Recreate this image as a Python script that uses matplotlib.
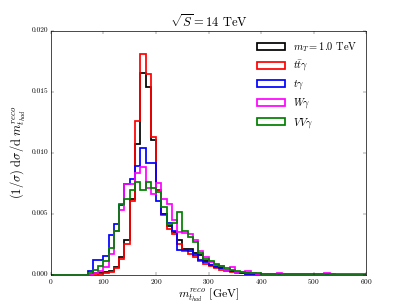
import numpy as np
import matplotlib
matplotlib.use('Agg')
import matplotlib.pyplot as plt
from matplotlib.patches import Patch

plt.style.use('classic')
plt.rcParams['mathtext.fontset'] = 'cm'
plt.rcParams['font.family'] = 'serif'
plt.rcParams['font.serif'] = ['cmr10']
plt.rcParams['axes.formatter.use_mathtext'] = True

# 10 GeV bins from 0 to 600
edges = np.arange(0, 610, 10)

# normalised distributions, read bin by bin from the picture (bins start at 0 GeV)
m_T = [0, 0, 0, 0, 0, 0, 0, 0, 0.0001, 0.0001,
       0.0002, 0.0003, 0.0006, 0.0014, 0.0028, 0.0062, 0.0107, 0.0165, 0.0154, 0.0110,
       0.0069, 0.0050, 0.0040, 0.0035, 0.0028, 0.0021, 0.0021, 0.0018, 0.0016, 0.0011,
       0.0008, 0.0007, 0.0005, 0.0004, 0.0003, 0.0002, 0.00015, 0.0001, 0.00005, 0.00005,
       0.00003, 0.00003, 0.00002, 0, 0, 0, 0, 0, 0, 0,
       0, 0, 0, 0, 0, 0, 0, 0, 0, 0]
ttgamma = [0, 0, 0, 0, 0, 0, 0, 0, 0, 0.00005,
           0.0001, 0.0002, 0.0005, 0.0013, 0.0025, 0.0060, 0.0126, 0.0181, 0.0164, 0.0113,
           0.0069, 0.0049, 0.0037, 0.0033, 0.0025, 0.0019, 0.0017, 0.0014, 0.0011, 0.0009,
           0.0007, 0.0005, 0.0004, 0.0003, 0.0002, 0.0001, 0.0001, 0.00005, 0.00003, 0.00002,
           0, 0, 0, 0, 0, 0, 0, 0, 0, 0,
           0, 0, 0, 0, 0, 0, 0, 0, 0, 0]
tgamma = [0, 0, 0, 0, 0, 0, 0, 0.0003, 0.00115, 0.00115,
          0.0015, 0.0032, 0.0041, 0.0057, 0.0074, 0.0078, 0.0089, 0.0104, 0.0091, 0.0091,
          0.0060, 0.0050, 0.0042, 0.0036, 0.0020, 0.0020, 0.0019, 0.0016, 0.0012, 0.0010,
          0.0008, 0.0006, 0.0005, 0.0004, 0.0003, 0.0002, 0.0001, 0.00005, 0.00003, 0.00002,
          0, 0, 0, 0, 0, 0, 0, 0, 0, 0,
          0, 0, 0, 0, 0, 0, 0, 0, 0, 0]
Wgamma = [0, 0, 0, 0, 0, 0, 0, 0, 0.0001, 0.0003,
          0.0006, 0.0017, 0.0036, 0.0053, 0.0074, 0.0074, 0.0083, 0.0088, 0.0071, 0.0066,
          0.0075, 0.0062, 0.0058, 0.0045, 0.0035, 0.0034, 0.0033, 0.0028, 0.0019, 0.0014,
          0.0010, 0.0008, 0.0007, 0.0004, 0.0006, 0.0002, 0.0002, 0.0003, 0.0001, 0.00005,
          0.00005, 0.00005, 0.00005, 0.0001, 0.00003, 0.00003, 0.00003, 0.00003, 0.00003, 0.00003,
          0.00003, 0.00003, 0.0001, 0.00003, 0, 0, 0, 0, 0, 0]
VVgamma = [0, 0, 0, 0, 0, 0, 0, 0.0001, 0.0004, 0.0007,
           0.0011, 0.0022, 0.0036, 0.0058, 0.0062, 0.0069, 0.0076, 0.0069, 0.0076, 0.0071,
           0.0068, 0.0055, 0.0041, 0.0042, 0.0051, 0.0036, 0.0031, 0.0027, 0.0018, 0.0013,
           0.0011, 0.0009, 0.0007, 0.0005, 0.0004, 0.0003, 0.0002, 0.00015, 0.0001, 0.0001,
           0.00008, 0.00006, 0.00005, 0.00005, 0.00005, 0.00005, 0.00005, 0.00005, 0.00005, 0.00005,
           0.00003, 0.00003, 0.00002, 0.00002, 0.00002, 0.00002, 0.00002, 0.00002, 0.00002, 0.00002]

labels = [r'$m_T = 1.0$ TeV', r'$t\bar{t}\gamma$', r'$t\gamma$', r'$W\gamma$', r'$VV\gamma$']
colors = ['black', 'red', 'blue', 'magenta', 'green']

fig = plt.figure(figsize=(8.14, 6.10), dpi=50, facecolor='white')
ax = fig.add_subplot(111)

handles = []
for vals, lab, col in zip([m_T, ttgamma, tgamma, Wgamma, VVgamma], labels, colors):
    ax.stairs(vals, edges, color=col, lw=2.5)
    # legend shows empty boxes like histtype='step'
    handles.append(Patch(fill=False, edgecolor=col, lw=2.5, label=lab))

ax.set_xlim(0, 600)
ax.set_ylim(0, 0.020)
ax.set_xticks(np.arange(0, 700, 100))
ax.set_yticks([0.0, 0.005, 0.010, 0.015, 0.020])
ax.set_yticklabels(['0.000', '0.005', '0.010', '0.015', '0.020'])
ax.tick_params(labelsize=10.5)

ax.set_title(r'$\sqrt{S} = 14$ TeV', fontsize=18)
ax.set_xlabel(r'$m_{t_{had}}^{reco}$ [GeV]', fontsize=17, labelpad=1)
ax.set_ylabel(r'$(1/\sigma)\ \mathrm{d}\sigma/\mathrm{d}\ m_{t_{had}}^{reco}$', fontsize=18)

ax.legend(handles=handles, loc='upper right', frameon=False, fontsize=15,
          handlelength=2.7, handleheight=0.7, handletextpad=0.7)

fig.savefig('out.png', dpi=50, facecolor='white')
